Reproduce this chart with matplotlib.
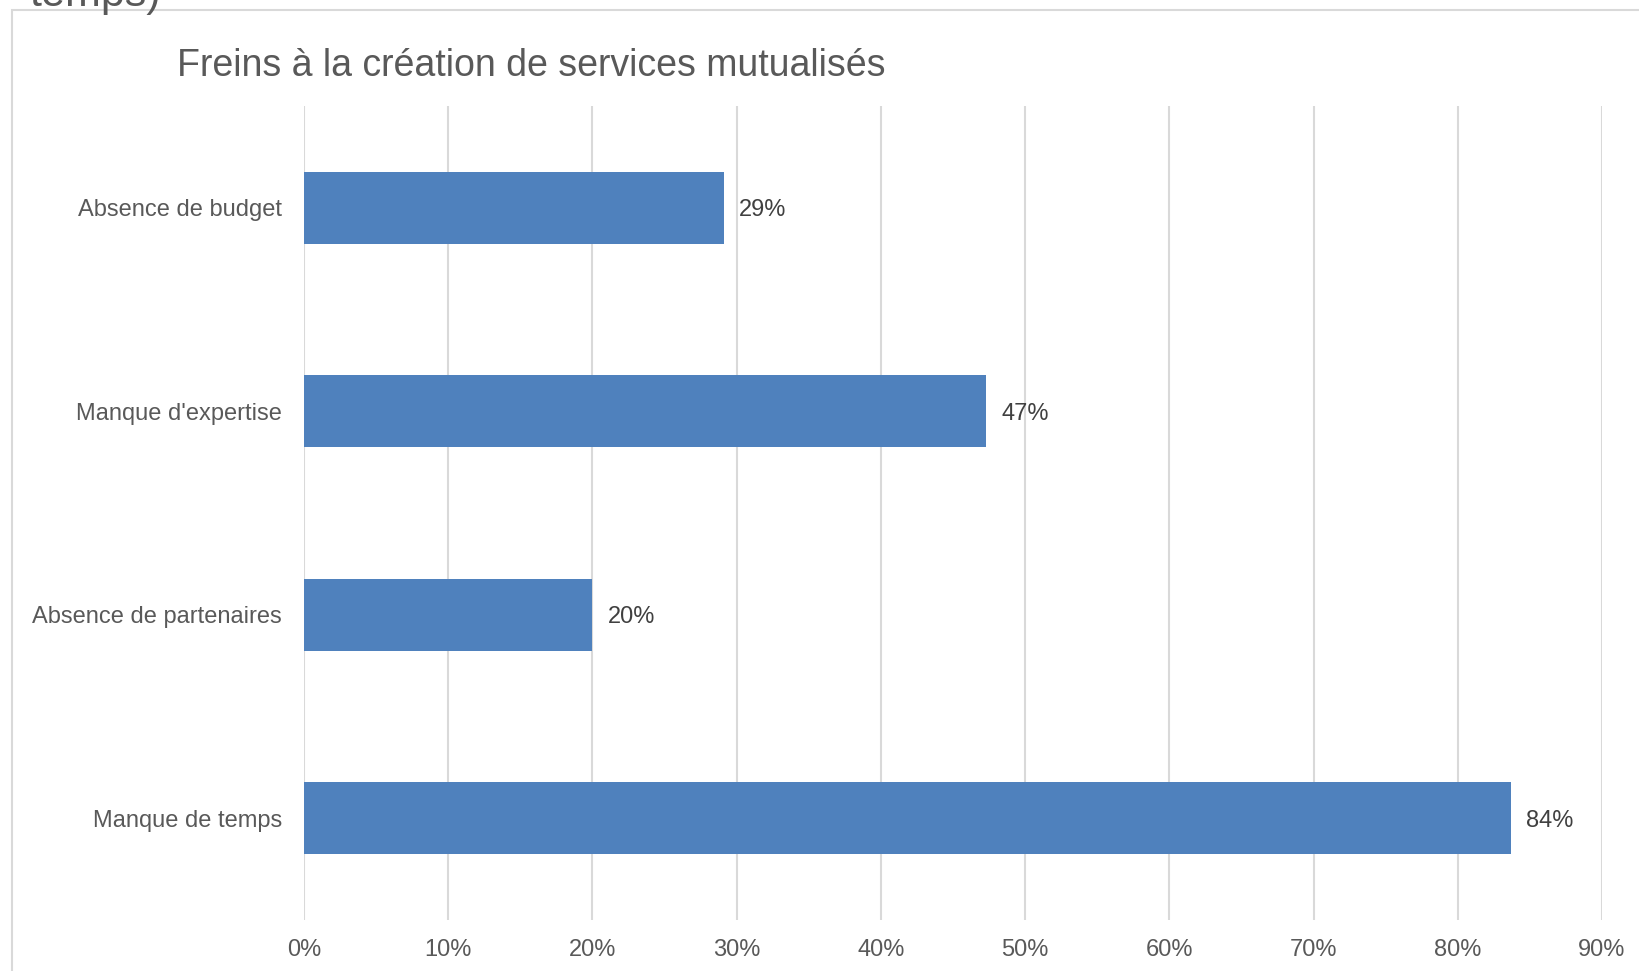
import matplotlib.pyplot as plt
import matplotlib.ticker as ticker
from matplotlib.patches import Rectangle

plt.rcParams['font.family'] = ['Liberation Sans', 'DejaVu Sans']

# Data (top to bottom)
categories = ["Absence de budget", "Manque d'expertise", "Absence de partenaires", "Manque de temps"]
values = [0.291, 0.473, 0.200, 0.837]
x_ticks = [0, 0.1, 0.2, 0.3, 0.4, 0.5, 0.6, 0.7, 0.8, 0.9]

fig = plt.figure(figsize=(16.4, 9.71), dpi=100)
ax = fig.add_axes([0.1854, 0.0525, 0.7914, 0.8383])

ax.barh(range(len(categories)), values, height=0.354, color="#4F81BD", zorder=3)
ax.set_ylim(len(categories) - 0.5, -0.5)
ax.set_xlim(0, 0.9)

ax.set_yticks(range(len(categories)))
ax.set_yticklabels(categories)
ax.set_xticks(x_ticks)
ax.xaxis.set_major_formatter(ticker.PercentFormatter(1.0, decimals=0))

ax.grid(axis="x", color="#D9D9D9", linewidth=1.5, zorder=0)
for s in ax.spines.values():
    s.set_visible(False)
ax.tick_params(axis="both", length=0, labelsize=17, labelcolor="#595959")
ax.tick_params(axis="x", pad=14)
ax.tick_params(axis="y", pad=16)

for i, v in enumerate(values):
    ax.annotate(f"{v:.0%}", (v, i), xytext=(11, 0), textcoords="offset points",
                va="center_baseline", ha="left", fontsize=17, color="#404040")

fig.text(0.108, 0.9217, "Freins à la création de services mutualisés",
         fontsize=27, color="#595959", va="baseline", ha="left")

# Cut-off text from the previous chart and the chart frame
fig.text(0.018, 0.9938, "temps)", fontsize=31, color="#595959", va="baseline", ha="left")
fig.patches.append(Rectangle((12 / 1640, -0.1), 1.2, 1 - 10 / 971 + 0.1,
                             transform=fig.transFigure, fill=False,
                             edgecolor="#D9D9D9", linewidth=1.5))

fig.savefig("out.png", dpi=100)
